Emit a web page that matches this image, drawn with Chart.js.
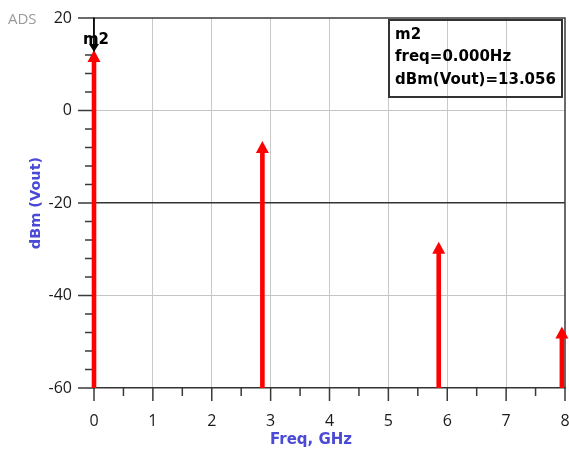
<!DOCTYPE html>
<html><head><meta charset="utf-8">
<script src="https://cdn.jsdelivr.net/npm/chart.js@4/dist/chart.umd.min.js"></script>
<style>html,body{margin:0;padding:0;background:#fff}#wrap{width:569px;height:454px;position:relative}</style>
</head><body><div id="wrap"><canvas id="c" width="569" height="454"></canvas></div>
<script>
const freqGHz = [0, 2.86, 5.855, 7.947];
const dBmVout = [13.056, -6.6, -28.4, -46.7];
const xTickValues = [0, 1, 2, 3, 4, 5, 6, 7, 8];
const yTickValues = [-60, -40, -20, 0, 20];
const xTitle = 'Freq, GHz';
const yTitle = 'dBm (Vout)';
const markerName = 'm2';
const markerIndex = 0;
const markerLines = ['m2', 'freq=0.000Hz', 'dBm(Vout)=13.056'];

const BLUE = '#4a4ad6';
const TITLE_FONT = 'bold 15px "DejaVu Sans"';

const arrowPlugin = {
  id: 'adsDecor',
  afterDraw(chart) {
    const ctx = chart.ctx;
    const ca = chart.chartArea;
    const xs = chart.scales.x, ys = chart.scales.y;
    ctx.save();
    ctx.strokeStyle = '#3a3a3a';
    ctx.lineWidth = 1.5;
    ctx.beginPath();
    ctx.moveTo(ca.left, ca.top); ctx.lineTo(ca.right, ca.top); ctx.lineTo(ca.right, ca.bottom);
    ctx.stroke();
    ctx.beginPath();
    xs.ticks.forEach(t => {
      const px = xs.getPixelForValue(t.value);
      const len = xTickValues.includes(t.value) ? 13 : 8;
      ctx.moveTo(px, ca.bottom); ctx.lineTo(px, ca.bottom + len);
    });
    ys.ticks.forEach(t => {
      const py = ys.getPixelForValue(t.value);
      const len = yTickValues.includes(t.value) ? 16 : 9;
      ctx.moveTo(ca.left, py); ctx.lineTo(ca.left - len, py);
    });
    ctx.stroke();
    const meta = chart.getDatasetMeta(0);
    ctx.fillStyle = '#ff0000';
    meta.data.forEach(pt => {
      const px = pt.x, py = pt.y;
      ctx.fillRect(px - 2.3, py + 10, 4.6, ca.bottom - py - 10);
      ctx.beginPath();
      ctx.moveTo(px, py);
      ctx.lineTo(px - 6.5, py + 12);
      ctx.lineTo(px + 6.5, py + 12);
      ctx.closePath();
      ctx.fill();
    });
    const mp = meta.data[markerIndex];
    ctx.strokeStyle = '#000';
    ctx.lineWidth = 1.5;
    ctx.beginPath();
    ctx.moveTo(mp.x, ca.top); ctx.lineTo(mp.x, mp.y - 5);
    ctx.stroke();
    ctx.fillStyle = '#000';
    ctx.beginPath();
    ctx.moveTo(mp.x, mp.y + 2);
    ctx.lineTo(mp.x - 5, mp.y - 6);
    ctx.lineTo(mp.x + 5, mp.y - 6);
    ctx.closePath();
    ctx.fill();
    ctx.font = 'bold 15px "DejaVu Sans"';
    ctx.textAlign = 'center';
    ctx.textBaseline = 'middle';
    ctx.fillText(markerName, mp.x + 2, mp.y - 10);
    ctx.strokeStyle = '#333';
    ctx.lineWidth = 2;
    ctx.strokeRect(389, 20, 173, 77);
    ctx.textAlign = 'left';
    ctx.font = 'bold 15px "DejaVu Sans"';
    markerLines.forEach((s, i) => ctx.fillText(s, 395, 35 + i * 22.5));
    ctx.fillStyle = '#9a9a9a';
    ctx.font = '15px "Open Sans"';
    ctx.fillText('ADS', 8, 20);
    ctx.fillStyle = BLUE;
    ctx.font = TITLE_FONT;
    ctx.textAlign = 'center';
    ctx.fillText(xTitle, 311, 440);
    ctx.restore();
  }
};

new Chart(document.getElementById('c'), {
  type: 'scatter',
  data: {
    datasets: [{
      data: freqGHz.map((f, i) => ({x: f, y: dBmVout[i]})),
      pointRadius: 0,
      showLine: false,
      borderColor: '#ff0000',
      backgroundColor: '#ff0000'
    }]
  },
  options: {
    responsive: false,
    animation: false,
    devicePixelRatio: 1,
    layout: {padding: {top: 18, right: 4, left: 0, bottom: 0}},
    plugins: {legend: {display: false}, tooltip: {enabled: false}},
    scales: {
      x: {
        type: 'linear', min: 0, max: 8,
        ticks: {
          stepSize: 0.5,
          autoSkip: false,
          maxRotation: 0,
          padding: 24,
          color: '#1a1a1a',
          font: {family: 'Open Sans', size: 16},
          callback: v => xTickValues.includes(v) ? String(v) : ''
        },
        grid: {
          drawTicks: false,
          color: c => (c.tick && Number.isInteger(c.tick.value) && c.tick.value > 0 && c.tick.value < 8) ? '#c8c8c8' : 'rgba(0,0,0,0)',
          lineWidth: 1
        },
        border: {display: true, color: '#333', width: 1.5},
        afterFit: s => { s.height = 66; s.paddingLeft = 0; s.paddingRight = 0; }
      },
      y: {
        type: 'linear', min: -60, max: 20,
        ticks: {
          stepSize: 4,
          autoSkip: false,
          padding: 22,
          color: '#1a1a1a',
          font: {family: 'Open Sans', size: 16},
          callback: v => yTickValues.includes(v) ? String(v) : ''
        },
        grid: {
          drawTicks: false,
          color: c => {
            if (!c.tick) return 'rgba(0,0,0,0)';
            const v = c.tick.value;
            if (v === -20) return '#333';
            if (v === 0 || v === -40) return '#c4c4c4';
            return 'rgba(0,0,0,0)';
          },
          lineWidth: c => (c.tick && c.tick.value === -20) ? 1.5 : 1
        },
        border: {display: true, color: '#333', width: 1.5},
        title: {
          display: true, text: yTitle, color: BLUE,
          font: {family: 'DejaVu Sans', size: 14.5, weight: 'bold'},
          padding: {top: 28, bottom: 0}
        },
        afterFit: s => { s.width = 94; s.paddingTop = 0; s.paddingBottom = 0; }
      }
    }
  },
  plugins: [arrowPlugin]
});
</script>
</body></html>
